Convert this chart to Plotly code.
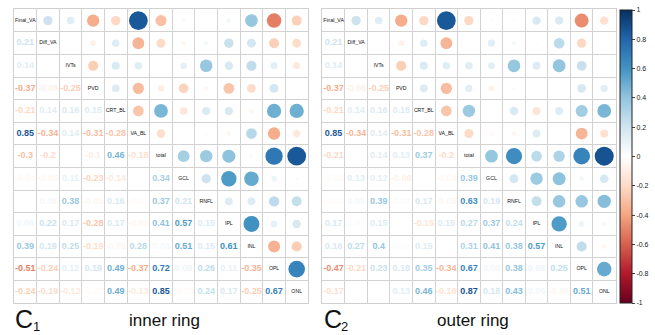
import math
import plotly.graph_objects as go

# Variable order shared by both correlation matrices
labels = ["Final_VA", "Diff_VA", "IVTs", "PVD", "CRT_BL", "VA_BL", "total",
          "GCL", "RNFL", "IPL", "INL", "OPL", "ONL"]

# Lower-triangle Pearson coefficients, row by row (inner ring)
inner_lower = [
    [],
    [0.21],
    [0.14, 0.0],
    [-0.37, -0.08, -0.25],
    [-0.21, 0.14, 0.16, 0.15],
    [0.85, -0.34, 0.14, -0.31, -0.28],
    [-0.3, -0.2, 0.0, -0.1, 0.46, -0.18],
    [-0.04, -0.05, 0.11, -0.23, -0.14, 0.0, 0.34],
    [0.0, 0.05, 0.38, -0.05, 0.16, -0.02, 0.37, 0.21],
    [0.06, 0.22, 0.17, -0.28, 0.17, -0.05, 0.41, 0.57, 0.15],
    [0.39, 0.19, 0.25, -0.19, -0.05, 0.28, 0.04, 0.51, 0.15, 0.61],
    [-0.51, -0.24, 0.12, 0.19, 0.49, -0.37, 0.72, 0.08, 0.26, 0.11, -0.35],
    [-0.24, -0.19, -0.12, -0.02, 0.49, -0.13, 0.85, -0.03, 0.24, 0.17, -0.25, 0.67],
]

# Lower-triangle Pearson coefficients, row by row (outer ring)
outer_lower = [
    [],
    [0.21],
    [0.14, 0.0],
    [-0.37, -0.08, -0.25],
    [-0.21, 0.14, 0.16, 0.15],
    [0.85, -0.34, 0.14, -0.31, -0.28],
    [-0.21, 0.0, 0.14, 0.13, 0.37, -0.2],
    [-0.03, 0.13, 0.12, -0.08, 0.0, -0.04, 0.39],
    [-0.02, 0.05, 0.39, 0.03, 0.17, -0.05, 0.63, 0.19],
    [0.17, 0.02, 0.15, 0.0, -0.15, 0.15, 0.27, 0.37, 0.24],
    [0.16, 0.27, 0.4, 0.02, 0.15, 0.0, 0.31, 0.41, 0.38, 0.57],
    [-0.47, -0.21, 0.23, 0.18, 0.35, -0.34, 0.67, 0.06, 0.38, 0.08, 0.25],
    [-0.17, 0.0, 0.0, 0.13, 0.46, -0.16, 0.87, 0.18, 0.43, 0.06, -0.05, 0.51],
]

panel_tags = ["1", "2"]
panel_titles = ["inner ring", "outer ring"]

colorbar_ticks = [1, 0.8, 0.6, 0.4, 0.2, 0, -0.2, -0.4, -0.6, -0.8, -1]

# Diverging red-white-blue palette, evenly spaced from -1 to 1
palette = ["#67001F", "#B2182B", "#D6604D", "#F4A582", "#FDDBC7", "#FFFFFF",
           "#D1E5F0", "#92C5DE", "#4393C3", "#2166AC", "#053061"]
colorscale = [[k / 10, c] for k, c in enumerate(palette)]


def hex_rgb(h):
    h = h.lstrip("#")
    return tuple(int(h[k:k + 2], 16) for k in (0, 2, 4))


def value_color(v):
    t = (max(-1, min(1, v)) + 1) / 2 * 10
    i = min(int(t), 9)
    f = t - i
    a, b = hex_rgb(palette[i]), hex_rgb(palette[i + 1])
    r, g, bl = (round(a[k] + (b[k] - a[k]) * f) for k in range(3))
    return f"rgb({r},{g},{bl})"


def fmt(v):
    s = f"{round(v, 2):.2f}".rstrip("0").rstrip(".")
    return "0" if s in ("-0", "") else s


def full_matrix(lower):
    n = len(labels)
    m = [[1.0] * n for _ in range(n)]
    for i, row in enumerate(lower):
        for j, v in enumerate(row):
            m[i][j] = v
            m[j][i] = v
    return m


n = len(labels)
W, H = 655, 335
cell_px = 294 / n
font = "Liberation Sans, Arial, sans-serif"

fig = go.Figure()

domains_x = [[14 / W, 308 / W], [322.3 / W, 615.5 / W]]
dom_y = [32 / H, 325.7 / H]

for p, lower in enumerate([inner_lower, outer_lower]):
    m = full_matrix(lower)
    xa = "x" if p == 0 else "x2"
    ya = "y" if p == 0 else "y2"

    # circles in the upper triangle: area proportional to |r|
    cx, cy, cv, cs = [], [], [], []
    for i in range(n):
        for j in range(i + 1, n):
            v = m[i][j]
            cx.append(j)
            cy.append(i)
            cv.append(v)
            cs.append(2 * 0.45 * math.sqrt(abs(v)) * cell_px)
    marker = dict(color=cv, colorscale=colorscale, cmin=-1, cmax=1,
                  size=cs, sizemode="diameter", line=dict(width=0), opacity=1)
    if p == 1:
        marker["showscale"] = True
        marker["colorbar"] = dict(
            x=620 / W, xanchor="left", y=32 / H, yanchor="bottom",
            len=293 / H, lenmode="fraction", thickness=12, thicknessmode="pixels",
            xpad=0, ypad=0, outlinewidth=1, outlinecolor="#222",
            tickvals=colorbar_ticks, ticktext=[fmt(t) for t in colorbar_ticks],
            ticks="outside", ticklen=3, tickwidth=1, tickcolor="#444",
            tickfont=dict(size=7, family=font, color="#222"),
        )
    else:
        marker["showscale"] = False
    fig.add_trace(go.Scatter(x=cx, y=cy, mode="markers", marker=marker,
                             xaxis=xa, yaxis=ya, hoverinfo="skip", showlegend=False))

    # coefficients printed in the lower triangle
    tx, ty, tt, tc = [], [], [], []
    for i in range(n):
        for j in range(i):
            v = m[i][j]
            tx.append(j)
            ty.append(i)
            tt.append(fmt(v))
            tc.append(value_color(v))
    fig.add_trace(go.Scatter(x=tx, y=ty, mode="text", text=tt,
                             textfont=dict(size=9, color=tc, family=font, weight="bold"),
                             xaxis=xa, yaxis=ya, hoverinfo="skip", showlegend=False))

    # variable names along the diagonal
    fig.add_trace(go.Scatter(x=list(range(n)), y=list(range(n)), mode="text",
                             text=labels,
                             textfont=dict(size=5.2, color="#111", family=font),
                             xaxis=xa, yaxis=ya, hoverinfo="skip", showlegend=False))

    axis_common = dict(range=[-0.5, n - 0.5], tickvals=[k - 0.5 for k in range(n + 1)],
                       showticklabels=False, ticks="", showgrid=True,
                       gridcolor="#d2d2d2", gridwidth=1, zeroline=False,
                       showline=True, mirror=True, linecolor="#cfcfcf", linewidth=1,
                       fixedrange=True)
    xkey = "xaxis" if p == 0 else "xaxis2"
    ykey = "yaxis" if p == 0 else "yaxis2"
    fig.update_layout({
        xkey: dict(axis_common, domain=domains_x[p], anchor=ya),
        ykey: dict(axis_common, domain=dom_y, anchor=xa,
                   range=[n - 0.5, -0.5]),
    })

    # panel tag (letter plus lowered index) and caption under each matrix
    x0 = domains_x[p][0]
    fig.add_annotation(xref="paper", yref="paper", x=x0 - 0.001, y=(H - 319) / H,
                       xanchor="left", yanchor="middle", showarrow=False,
                       text="C", font=dict(size=25, family=font, color="#111"))
    fig.add_annotation(xref="paper", yref="paper", x=x0 + 17 / W, y=(H - 326) / H,
                       xanchor="left", yanchor="middle", showarrow=False,
                       text=panel_tags[p], font=dict(size=13, family=font, color="#111"))
    fig.add_annotation(xref="paper", yref="paper", x=x0 + 113 / W, y=(H - 320) / H,
                       xanchor="left", yanchor="middle", showarrow=False,
                       text=panel_titles[p],
                       font=dict(size=17, family=font, color="#111"))

fig.update_layout(width=W, height=H, margin=dict(l=0, r=0, t=0, b=0),
                  paper_bgcolor="white", plot_bgcolor="white")

fig.write_html("out.html")
